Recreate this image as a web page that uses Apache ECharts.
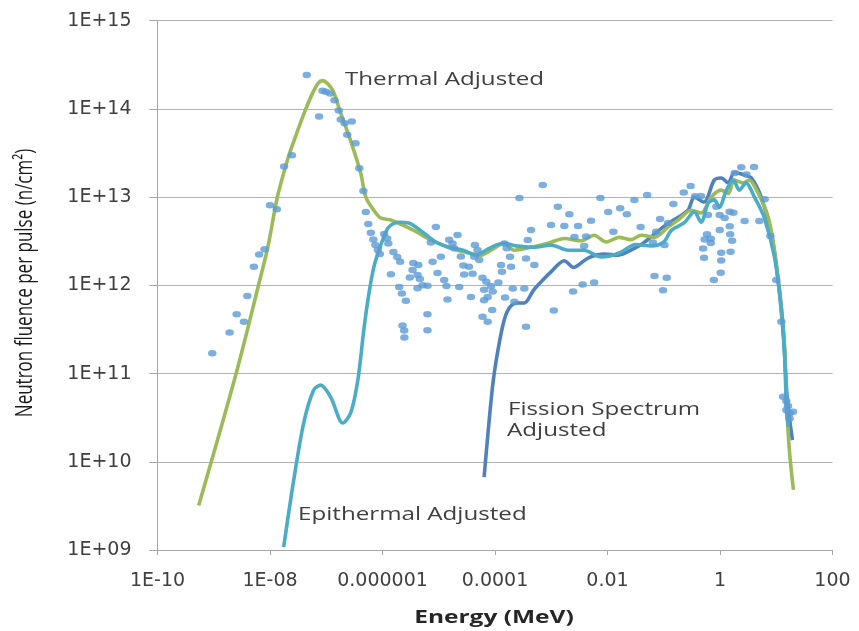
<!DOCTYPE html>
<html>
<head>
<meta charset="utf-8">
<title>Neutron fluence per pulse</title>
<script src="https://cdn.jsdelivr.net/npm/echarts@6/dist/echarts.min.js"></script>
<style>
    html, body { margin: 0; padding: 0; background: #fff; }
    #chart { width: 859px; height: 631px; }
</style>
</head>
<body>
<div id="chart"></div>
<script>
// tick labels as printed on the axes
var xTickLabels = ['1E-10', '1E-08', '0.000001', '0.0001', '0.01', '1', '100'];
var yTickLabels = ['1E+09', '1E+10', '1E+11', '1E+12', '1E+13', '1E+14', '1E+15'];

// [energy MeV, fluence n/cm2]
var thermalAdjusted = [
    [5.4e-10, 3.2e9], [2.5e-9, 1.0e11], [6.81e-9, 1.25e12], [9.2e-9, 2.74e12], [1.35e-8, 1.0e13],
    [2.04e-8, 2.63e13], [2.57e-8, 4.07e13], [4.03e-8, 8.9e13], [5.69e-8, 1.5e14], [7.16e-8, 1.95e14],
    [8.6e-8, 2.09e14], [1.29e-7, 1.64e14], [1.8e-7, 9.0e13], [2.7e-7, 4.4e13],
    [4.1e-7, 1.87e13], [5.05e-7, 1.0e13], [7.0e-7, 7.1e12], [9.3e-7, 5.8e12], [1.4e-6, 5.5e12],
    [3.6e-6, 4.2e12], [7.2e-6, 3.27e12], [1.46e-5, 2.7e12], [2.8e-5, 2.4e12], [5.6e-5, 2.2e12],
    [8.5e-5, 2.5e12], [1.45e-4, 3.0e12], [2.2e-4, 2.5e12], [4.4e-4, 2.7e12], [8.8e-4, 3.0e12],
    [1.7e-3, 3.4e12], [3.4e-3, 3.2e12], [5.8e-3, 3.7e12], [9.5e-3, 3.1e12], [1.6e-2, 3.5e12],
    [2.6e-2, 3.3e12], [4.0e-2, 3.7e12], [6.8e-2, 3.5e12], [0.12, 4.6e12], [0.18, 5.5e12],
    [0.31, 7.1e12], [0.46, 6.6e12], [0.70, 1.0e13], [1.05, 1.2e13], [1.4, 1.1e13],
    [1.8, 1.56e13], [2.6, 1.45e13], [3.3, 1.56e13], [4.8, 1.1e13], [7.2, 5.9e12],
    [9.3, 2.5e12], [11.4, 8.9e11], [14, 2.2e11], [15.2, 5.0e10], [17.1, 1.36e10], [20.2, 4.8e9]
];
var epithermalAdjusted = [
    [1.75e-8, 1.08e9], [2.64e-8, 6.2e9], [3.97e-8, 2.75e10], [5.98e-8, 6.5e10], [7.98e-8, 7.4e10],
    [1.2e-7, 5.4e10], [1.97e-7, 2.75e10], [2.73e-7, 3.6e10], [3.64e-7, 8.4e10], [4.65e-7, 3.1e11],
    [5.5e-7, 6.8e11], [7.0e-7, 1.6e12], [1.01e-6, 3.3e12], [1.3e-6, 4.6e12], [1.95e-6, 5.2e12],
    [2.94e-6, 5.1e12], [5.2e-6, 4.0e12], [8.9e-6, 3.1e12], [1.5e-5, 2.7e12], [2.7e-5, 2.5e12],
    [4.6e-5, 2.2e12], [6.9e-5, 2.5e12], [1.04e-4, 2.86e12], [1.45e-4, 3.0e12], [2.37e-4, 2.8e12],
    [4.9e-4, 2.7e12], [9.9e-4, 2.86e12], [2.0e-3, 2.5e12], [3.8e-3, 2.5e12], [7.7e-3, 2.1e12],
    [1.55e-2, 2.3e12], [3.2e-2, 2.9e12], [6.0e-2, 2.8e12], [0.10, 3.1e12], [0.136, 4.2e12],
    [0.23, 5.1e12], [0.35, 6.8e12], [0.46, 5.2e12], [0.62, 8.6e12], [0.79, 9.3e12],
    [0.97, 7.7e12], [1.3, 1.2e13], [1.73, 1.56e13], [2.2, 1.2e13], [2.9, 1.45e13],
    [4.1, 1.0e13], [6.1, 5.9e12], [9.3, 2.1e12], [12.3, 5.7e11], [14, 1.85e11],
    [15.2, 3.9e10], [16.4, 2.5e10]
];
var fissionAdjusted = [
    [6.4e-5, 6.7e9], [7.5e-5, 2.1e10], [9.2e-5, 7.8e10], [1.13e-4, 1.85e11], [1.45e-4, 4.0e11],
    [1.85e-4, 5.7e11], [2.57e-4, 6.3e11], [3.3e-4, 6.3e11], [4.9e-4, 8.9e11], [7.1e-4, 1.15e12],
    [9.9e-4, 1.42e12], [1.7e-3, 1.9e12], [2.5e-3, 1.6e12], [4.5e-3, 2.04e12], [8.7e-3, 2.26e12],
    [1.55e-2, 2.2e12], [2.6e-2, 2.5e12], [4.3e-2, 3.0e12], [6.8e-2, 3.8e12], [9.8e-2, 4.6e12],
    [0.15, 5.5e12], [0.27, 7.1e12], [0.35, 1.0e13], [0.52, 8.8e12], [0.79, 1.56e13],
    [1.05, 1.65e13], [1.4, 1.45e13], [1.8, 1.9e13], [2.7, 1.78e13], [3.6, 1.65e13],
    [5.4, 1.0e13], [8.2, 3.9e12], [10.9, 1.06e12], [13.4, 2.6e11], [15.8, 5.0e10], [19.4, 1.76e10]
];

// measured points, split by energy region
var measuredThermal = [
    [9.4e-10, 1.7e11], [1.91e-9, 2.93e11], [2.55e-9, 4.69e11], [3.44e-9, 3.87e11], [3.95e-9, 7.56e11],
    [5.17e-9, 1.63e12], [6.4e-9, 2.23e12], [8.0e-9, 2.56e12], [1.0e-8, 8.1e12], [1.32e-8, 7.3e12],
    [1.78e-8, 2.22e13], [2.45e-8, 2.98e13], [4.5e-8, 2.42e14], [7.45e-8, 8.2e13], [8.6e-8, 1.61e14],
    [9.8e-8, 1.57e14], [1.17e-7, 1.5e14], [1.4e-7, 1.25e14], [1.67e-7, 9.6e13], [1.81e-7, 7.6e13],
    [2.12e-7, 6.9e13], [2.84e-7, 7.2e13], [2.36e-7, 5.1e13], [3.31e-7, 4.07e13], [3.87e-7, 2.12e13],
    [4.57e-7, 1.17e13], [5.05e-7, 6.8e12], [5.6e-7, 4.95e12], [6.2e-7, 3.95e12], [6.87e-7, 3.31e12],
    [7.45e-7, 2.86e12], [8.26e-7, 2.51e12], [8.96e-7, 2.26e12]
];
var measuredEpithermal = [
    [1.07e-6, 3.82e12], [1.21e-6, 3.4e12], [1.27e-6, 2.99e12], [1.56e-6, 2.39e12], [1.83e-6, 2.09e12],
    [2.06e-6, 1.85e12], [1.41e-6, 1.34e12], [1.98e-6, 9.6e11], [2.21e-6, 8.1e11], [2.6e-6, 6.7e11],
    [2.27e-6, 3.5e11], [2.43e-6, 3.07e11], [2.45e-6, 2.56e11], [3.53e-6, 1.79e12], [4.34e-6, 1.7e12],
    [3.42e-6, 1.49e12], [3.06e-6, 1.23e12], [4.2e-6, 1.31e12], [4.61e-6, 1.18e12], [5.15e-6, 1.0e12],
    [4.2e-6, 9.3e11], [6.3e-6, 9.9e11], [6.3e-6, 4.7e11], [6.3e-6, 3.1e11], [7.24e-6, 3.06e12],
    [8.9e-6, 4.6e12], [7.77e-6, 1.85e12], [1.09e-5, 2.11e12], [9.5e-6, 1.38e12], [1.25e-5, 1.15e12],
    [1.37e-5, 9.8e11], [1.43e-5, 6.9e11], [2.31e-5, 9.6e11], [3.73e-5, 7.4e11], [1.53e-5, 3.29e12],
    [2.16e-5, 3.72e12], [1.76e-5, 2.99e12], [1.88e-5, 2.63e12], [2.47e-5, 2.13e12], [2.74e-5, 1.68e12],
    [3.44e-5, 1.63e12], [2.83e-5, 1.33e12], [4.0e-5, 1.35e12], [4.39e-5, 2.86e12], [4.9e-5, 2.51e12],
    [4.27e-5, 2.11e12], [5.24e-5, 1.94e12], [6.0e-5, 1.22e12], [7.0e-5, 1.1e12], [8.5e-5, 9.8e11],
    [6.4e-5, 8.9e11], [9.1e-5, 8.5e11], [1.15e-4, 1.08e12], [7.4e-5, 7.4e11], [6.4e-5, 6.8e11],
    [8.9e-5, 5.25e11], [6.0e-5, 4.4e11], [7.4e-5, 3.87e11], [1.28e-4, 1.7e12], [1.33e-4, 1.43e12],
    [1.51e-4, 7.3e11], [2.07e-4, 9.2e11], [1.85e-4, 2.11e12], [1.93e-4, 1.63e12], [1.62e-4, 2.63e12],
    [1.47e-4, 2.99e12], [2.21e-4, 6.5e11], [3.32e-4, 9.2e11], [3.56e-4, 3.4e11], [3.82e-4, 3.26e12],
    [4.37e-4, 4.24e12], [3.56e-4, 2.02e12], [5.0e-4, 1.7e12], [7.07e-4, 1.37e13], [2.71e-4, 9.8e12]
];
var measuredFast = [
    [9.9e-4, 4.83e12], [1.11e-3, 5.2e11], [1.31e-3, 7.8e12], [1.71e-3, 4.7e12], [2.1e-3, 6.4e12],
    [3.0e-3, 4.7e12], [2.58e-3, 3.53e12], [4.17e-3, 3.57e12], [3.84e-3, 2.79e12], [5.11e-3, 5.4e12],
    [2.44e-3, 8.5e11], [3.61e-3, 1.02e12], [5.78e-3, 1.08e12], [7.48e-3, 9.8e12], [1.03e-2, 6.8e12],
    [1.27e-2, 4.05e12], [1.68e-2, 7.46e12], [2.21e-2, 6.4e12], [3.01e-2, 9.3e12], [5.07e-2, 1.06e13],
    [3.88e-2, 4.6e12], [6.84e-2, 1.28e12], [0.113, 1.22e12], [9.7e-2, 8.8e11], [8.6e-2, 5.65e12],
    [0.119, 5.1e12], [7.33e-2, 4.05e12], [6.4e-2, 3.07e12], [0.103, 2.86e12], [0.148, 8.35e12],
    [0.227, 1.13e13], [0.30, 1.34e13], [0.361, 1.02e13], [0.459, 1.03e13], [0.612, 6.27e12],
    [0.86, 7.8e12], [0.985, 6.27e12], [1.21, 5.8e12], [1.48, 6.83e12], [1.73, 6.65e12],
    [2.74, 5.36e12], [5.0, 5.36e12], [6.22, 9.44e12], [7.86, 3.62e12], [10.0, 1.15e12],
    [12.3, 3.87e11], [0.587, 3.79e12], [0.687, 3.37e12], [0.532, 3.32e12], [0.684, 3.02e12],
    [0.50, 2.61e12], [0.52, 2.06e12], [0.99, 4.24e12], [1.49, 4.67e12], [1.52, 3.8e12],
    [1.64, 3.2e12], [1.54, 2.4e12], [1.05, 2.34e12], [1.05, 1.91e12], [1.03, 1.39e12],
    [0.777, 1.15e12], [2.39, 2.18e13], [4.03, 2.2e13], [1.83, 1.88e13], [2.94, 1.8e13],
    [13.2, 5.46e10], [15.1, 4.88e10], [16.2, 4.28e10], [17.3, 3.54e10], [19.9, 3.69e10],
    [17.3, 3.1e10], [15.1, 3.86e10]
];

var labelColor = '#404040';
var lineColor = '#a6a6a6';

function curve(name, data, color, z) {
    return {
        name: name,
        type: 'line',
        data: data,
        smooth: 0.3,
        showSymbol: false,
        z: z,
        lineStyle: {width: 3.6, color: color},
        itemStyle: {color: color}
    };
}

var chart = echarts.init(document.getElementById('chart'));
var option = {
    animation: false,
    backgroundColor: '#fff',
    grid: {left: 157.5, right: 26.5, top: 20.7, bottom: 81},
    xAxis: {
        type: 'log',
        logBase: 100,          // one label every two decades
        min: 1e-10,
        max: 100,
        axisLine: {show: true, lineStyle: {color: lineColor, width: 1}},
        axisTick: {show: true, length: 5, lineStyle: {color: lineColor}},
        minorTick: {show: false},
        splitLine: {show: false},
        axisLabel: {
            margin: 22,
            color: labelColor,
            fontFamily: 'DejaVu Sans',
            fontSize: 19,
            formatter: function (v) {
                var i = (Math.round(Math.log10(v)) + 10) / 2;
                return xTickLabels[i] || '';
            }
        }
    },
    yAxis: {
        type: 'log',
        logBase: 10,
        min: 1e9,
        max: 1e15,
        axisLine: {show: true, lineStyle: {color: lineColor, width: 1}},
        axisTick: {show: true, length: 8, lineStyle: {color: lineColor}},
        minorTick: {show: false},
        splitLine: {show: true, lineStyle: {color: '#b3b3b3', width: 1}},
        axisLabel: {
            margin: 26,
            color: labelColor,
            fontFamily: 'DejaVu Sans',
            fontSize: 19,
            formatter: function (v) {
                return yTickLabels[Math.round(Math.log10(v)) - 9] || '';
            }
        }
    },
    series: [
        curve('Fission Spectrum Adjusted', fissionAdjusted, '#4f81bd', 2),
        curve('Thermal Adjusted', thermalAdjusted, '#9bbb59', 3),
        curve('Epithermal Adjusted', epithermalAdjusted, '#4bacc6', 4),
        {
            name: 'Measured',
            type: 'scatter',
            z: 5,
            symbol: 'circle',
            symbolSize: [8.5, 6.5],
            itemStyle: {color: '#5b9bd5'},
            data: measuredThermal.concat(measuredEpithermal, measuredFast)
        }
    ],
    graphic: [
        {
            type: 'text', x: 25, y: 283, rotation: Math.PI / 2, scaleY: 1.4, z: 100,
            style: {
                text: 'Neutron fluence per pulse (n/cm²)', fill: '#1a1a1a',
                fontFamily: 'Open Sans', fontSize: 17, align: 'center', verticalAlign: 'middle'
            }
        },
        {
            type: 'text', x: 494, y: 618, scaleX: 1.36, z: 100,
            style: {
                text: 'Energy (MeV)', fill: '#262626', fontWeight: 'bold',
                fontFamily: 'Open Sans', fontSize: 18, align: 'center', verticalAlign: 'middle'
            }
        },
        {
            type: 'text', x: 345, y: 80, scaleX: 1.38, z: 100,
            style: {
                text: 'Thermal Adjusted', fill: labelColor,
                fontFamily: 'Open Sans', fontSize: 17.5, align: 'left', verticalAlign: 'middle'
            }
        },
        {
            type: 'text', x: 508, y: 410, scaleX: 1.38, z: 100,
            style: {
                text: 'Fission Spectrum', fill: labelColor,
                fontFamily: 'Open Sans', fontSize: 17.5, align: 'left', verticalAlign: 'middle'
            }
        },
        {
            type: 'text', x: 507, y: 431.5, scaleX: 1.38, z: 100,
            style: {
                text: 'Adjusted', fill: labelColor,
                fontFamily: 'Open Sans', fontSize: 17.5, align: 'left', verticalAlign: 'middle'
            }
        },
        {
            type: 'text', x: 298, y: 515.5, scaleX: 1.38, z: 100,
            style: {
                text: 'Epithermal Adjusted', fill: labelColor,
                fontFamily: 'Open Sans', fontSize: 17.5, align: 'left', verticalAlign: 'middle'
            }
        }
    ]
};
chart.setOption(option);
</script>
</body>
</html>
